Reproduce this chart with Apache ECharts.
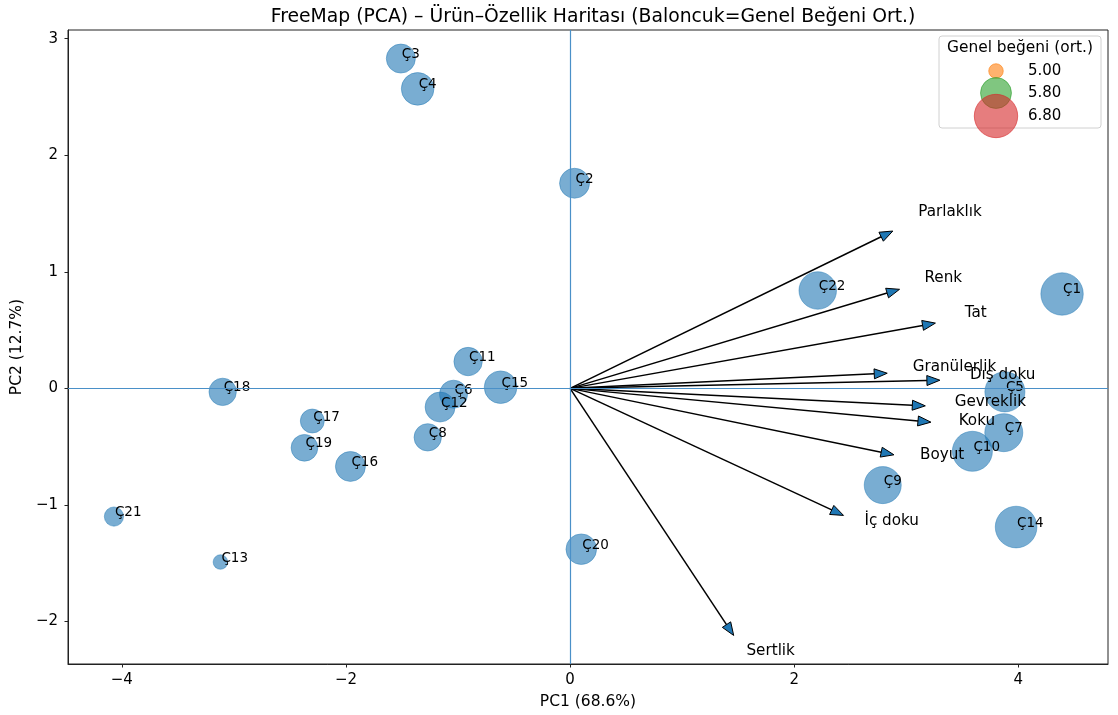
<!DOCTYPE html>
<html>
<head>
<meta charset="utf-8">
<script src="https://cdn.jsdelivr.net/npm/echarts@6/dist/echarts.min.js"></script>
<style>
  html, body { margin: 0; padding: 0; background: #fff; }
  #chart { width: 1118px; height: 715px; }
</style>
</head>
<body>
<div id="chart"></div>
<script>
// ürünler (PCA skorları + genel beğeni ort.)
var names = ["Ç1", "Ç2", "Ç3", "Ç4", "Ç5", "Ç6", "Ç7", "Ç8", "Ç9", "Ç10", "Ç11",
  "Ç12", "Ç13", "Ç14", "Ç15", "Ç16", "Ç17", "Ç18", "Ç19", "Ç20", "Ç21", "Ç22"];
var pc1 = [4.39, 0.04, -1.51, -1.36, 3.88, -1.04, 3.87, -1.27, 2.79, 3.59, -0.91,
  -1.16, -3.12, 3.98, -0.62, -1.96, -2.30, -3.10, -2.37, 0.10, -4.07, 2.21];
var pc2 = [0.81, 1.76, 2.83, 2.57, -0.03, -0.05, -0.38, -0.42, -0.83, -0.54, 0.23,
  -0.16, -1.49, -1.19, 0.01, -0.67, -0.28, -0.03, -0.51, -1.38, -1.10, 0.84];
var rating = [6.71, 5.74, 5.68, 5.92, 6.50, 5.62, 6.33, 5.58, 6.25, 6.50, 5.64,
  5.74, 5.00, 6.64, 5.92, 5.74, 5.39, 5.58, 5.54, 5.78, 5.17, 6.29];

// özellik yükleri (ok uçları) ve etiket konumları
var features = ["Parlaklık", "Renk", "Tat", "Granülerlik", "Dış doku", "Gevreklik",
  "Koku", "Boyut", "İç doku", "Sertlik"];
var loadX = [2.88, 2.94, 3.26, 2.83, 3.30, 3.17, 3.22, 2.89, 2.44, 1.46];
var loadY = [1.35, 0.85, 0.56, 0.13, 0.07, -0.15, -0.29, -0.57, -1.09, -2.12];
var labelX = [3.39, 3.33, 3.62, 3.43, 3.86, 3.75, 3.63, 3.32, 2.87, 1.79];
var labelY = [1.51, 0.95, 0.65, 0.18, 0.11, -0.12, -0.28, -0.57, -1.14, -2.25];

// ticks + legend
var xTicks = [-4, -2, 0, 2, 4];
var yTicks = [-2, -1, 0, 1, 2, 3];
var legendValues = [5.00, 5.80, 6.80];
var legendColors = ["rgba(255,127,14,0.6)", "rgba(44,160,44,0.6)", "rgba(214,39,40,0.6)"];

var FONT = "DejaVu Sans";

function bubbleSize(v) {
  // alan, beğeni ile doğrusal artıyor
  return 2 * Math.sqrt(53 + 232 * (v - 5));
}

function fmt(v) {
  return String(v).replace("-", "\u2212");
}

var points = names.map(function (n, i) {
  return [pc1[i], pc2[i], rating[i], n];
});
var arrows = features.map(function (f, i) {
  return [loadX[i], loadY[i]];
});
var arrowLabels = features.map(function (f, i) {
  return [labelX[i], labelY[i]];
});

var chart = echarts.init(document.getElementById("chart"));

// lejant: farklı boyutlu baloncuklar, graphic ile
var legendItems = [];
var ly = [71, 93, 116];
legendValues.forEach(function (v, i) {
  legendItems.push({
    type: "circle",
    shape: { cx: 996, cy: ly[i], r: bubbleSize(v) / 2 },
    style: { fill: legendColors[i], stroke: legendColors[i], lineWidth: 1 },
    z: 100 + i
  });
  legendItems.push({
    type: "text",
    x: 1028, y: ly[i],
    style: { text: v.toFixed(2), font: "15px " + FONT, fill: "#000", verticalAlign: "middle" },
    z: 110
  });
});

var option = {
  animation: false,
  title: {
    text: "FreeMap (PCA) – Ürün–Özellik Haritası (Baloncuk=Genel Beğeni Ort.)",
    left: 588,
    textAlign: "center",
    top: 3,
    textStyle: { fontFamily: FONT, fontSize: 18.8, fontWeight: "normal", color: "#000" }
  },
  grid: {
    left: 68, right: 10, top: 30, bottom: 50,
    show: true, borderColor: "#222", borderWidth: 1
  },
  xAxis: {
    type: "value",
    min: -4.48, max: 4.80,
    name: "PC1 (68.6%)",
    nameLocation: "middle",
    nameGap: 30,
    nameTextStyle: { fontFamily: FONT, fontSize: 15.5, color: "#000" },
    axisLine: { show: true, onZero: false, lineStyle: { color: "#222", width: 1 } },
    axisTick: { show: true, length: 3.5, customValues: xTicks, lineStyle: { color: "#222" } },
    axisLabel: { customValues: xTicks, margin: 9, fontFamily: FONT, fontSize: 15, color: "#000", formatter: fmt },
    splitLine: { show: false }
  },
  yAxis: {
    type: "value",
    min: -2.365, max: 3.075,
    name: "PC2 (12.7%)",
    nameLocation: "middle",
    nameGap: 43,
    nameTextStyle: { fontFamily: FONT, fontSize: 15.5, color: "#000" },
    axisLine: { show: true, onZero: false, lineStyle: { color: "#222", width: 1 } },
    axisTick: { show: true, length: 3.5, customValues: yTicks, lineStyle: { color: "#222" } },
    axisLabel: { customValues: yTicks, margin: 10, fontFamily: FONT, fontSize: 15, color: "#000", formatter: fmt },
    splitLine: { show: false }
  },
  graphic: [{
    type: "group",
    children: [{
      type: "rect",
      shape: { x: 939, y: 36, width: 162, height: 92, r: 3 },
      style: { fill: "rgba(255,255,255,0.8)", stroke: "#d0d0d0", lineWidth: 1 },
      z: 99
    }, {
      type: "text",
      x: 1020, y: 48,
      style: { text: "Genel beğeni (ort.)", font: "15.4px " + FONT, fill: "#000", align: "center", verticalAlign: "middle" },
      z: 110
    }].concat(legendItems)
  }],
  series: [
    {
      type: "scatter",
      data: points,
      symbolSize: function (val) { return bubbleSize(val[2]); },
      itemStyle: { color: "rgba(31,119,180,0.6)", borderColor: "rgba(31,119,180,0.45)", borderWidth: 1, opacity: 1 },
      label: {
        show: true,
        position: "inside",
        align: "left",
        verticalAlign: "bottom",
        offset: [1, 3],
        formatter: function (p) { return p.data[3]; },
        fontFamily: FONT, fontSize: 13.5, color: "#000"
      },
      emphasis: { disabled: true },
      markLine: {
        silent: true,
        symbol: "none",
        label: { show: false },
        lineStyle: { color: "#4a90c8", width: 1.2, type: "solid", opacity: 1 },
        data: [{ xAxis: 0 }, { yAxis: 0 }]
      },
      z: 2
    },
    {
      type: "custom",
      data: arrows,
      clip: false,
      z: 3,
      renderItem: function (params, api) {
        var p0 = api.coord([0, 0]);
        var p1 = api.coord([api.value(0), api.value(1)]);
        var dx = p1[0] - p0[0], dy = p1[1] - p0[1];
        var len = Math.sqrt(dx * dx + dy * dy);
        var ux = dx / len, uy = dy / len;
        var hl = 13, hw = 5;
        var bx = p1[0] - ux * hl, by = p1[1] - uy * hl;
        return {
          type: "group",
          children: [{
            type: "line",
            shape: { x1: p0[0], y1: p0[1], x2: bx, y2: by },
            style: { stroke: "#000", lineWidth: 1.5 }
          }, {
            type: "polygon",
            shape: { points: [[p1[0], p1[1]], [bx - uy * hw, by + ux * hw], [bx + uy * hw, by - ux * hw]] },
            style: { fill: "#1f77b4", stroke: "#000", lineWidth: 1 }
          }]
        };
      }
    },
    {
      type: "custom",
      data: arrowLabels,
      clip: false,
      z: 4,
      renderItem: function (params, api) {
        var p = api.coord([api.value(0), api.value(1)]);
        return {
          type: "text",
          x: p[0], y: p[1],
          style: {
            text: features[params.dataIndex],
            font: "15.2px " + FONT,
            fill: "#000",
            align: "center",
            verticalAlign: "middle"
          }
        };
      }
    }
  ]
};

chart.setOption(option);
</script>
</body>
</html>
